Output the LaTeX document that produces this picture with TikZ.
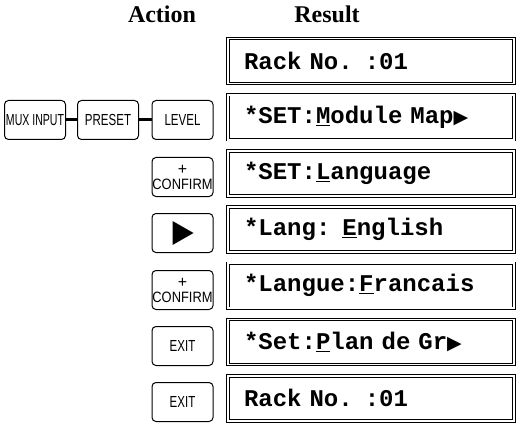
\documentclass[tikz,border=0pt]{standalone}
\usepackage{graphicx}
\usepackage{fontspec}
\setmainfont{Liberation Serif}
\newfontfamily\lcdfont{Liberation Mono}
\newfontfamily\keyfont{Liberation Sans}
\newfontfamily\symfont{DejaVu Sans}
\newcommand{\keytext}[2][0.72]{\scalebox{#1}[1]{#2}}
\newcommand{\moretri}{{\symfont\fontsize{19}{19}\selectfont ▶}}
\begin{document}
\begin{tikzpicture}[x=1pt,y=-1pt,
	lcd/.style={draw,double,line width=0.9pt,double distance=1.8pt,minimum width=286pt,minimum height=45pt,inner xsep=0pt,text width=254pt,align=left,font=\lcdfont\bfseries\fontsize{24}{24}\selectfont},
	key/.style={draw,rounded corners=4pt,line width=1pt,minimum width=61pt,minimum height=39pt,inner sep=0pt,align=center,font=\keyfont\fontsize{16}{13}\selectfont},
	head/.style={font=\bfseries\fontsize{24}{24}\selectfont},
	link/.style={line width=3pt}]
				\useasboundingbox (0,0) rectangle (522,425);
				\node[head] (act) at (162,14) {Action};
				\node[head] (res) at (327,14) {Result};
				\node[lcd] (d1) at (371,61) {Rack No. :01};
				\node[lcd] (d2) at (371,117.2) {*SET:\underline{M}odule Map\moretri};
				\node[lcd] (d3) at (371,173.4) {*SET:\underline{L}anguage};
				\node[lcd] (d4) at (371,229.6) {*Lang: \underline{E}nglish};
				\node[lcd] (d5) at (371,285.8) {*Langue:\underline{F}rancais};
				\node[lcd] (d6) at (371,342) {*Set:\underline{P}lan de Gr\moretri};
				\node[lcd] (d7) at (371,398.2) {Rack No. :01};
				\node[key] (mux) at (35,120) {\keytext[0.66]{MUX INPUT}};
				\node[key] (pre) at (108,120) {\keytext{PRESET}};
				\node[key] (lev) at (182.5,120) {\keytext{LEVEL}};
				\draw[link] (mux) -- (pre);
				\draw[link] (pre) -- (lev);
				\node[key] (conf1) at (182.5,177) {+\\[2pt]\keytext[0.86]{\fontsize{15}{13}\selectfont CONFIRM}};
				\node[key] (play) at (182.5,233) {};
				\fill ([xshift=-10pt,yshift=12pt]play.center) -- ([xshift=-10pt,yshift=-12pt]play.center) -- ([xshift=11pt]play.center) -- cycle;
				\node[key] (conf2) at (182.5,290) {+\\[2pt]\keytext[0.86]{\fontsize{15}{13}\selectfont CONFIRM}};
				\node[key] (exit1) at (182.5,346) {\keytext{EXIT}};
				\node[key] (exit2) at (182.5,402) {\keytext{EXIT}};
\end{tikzpicture}
\end{document}
